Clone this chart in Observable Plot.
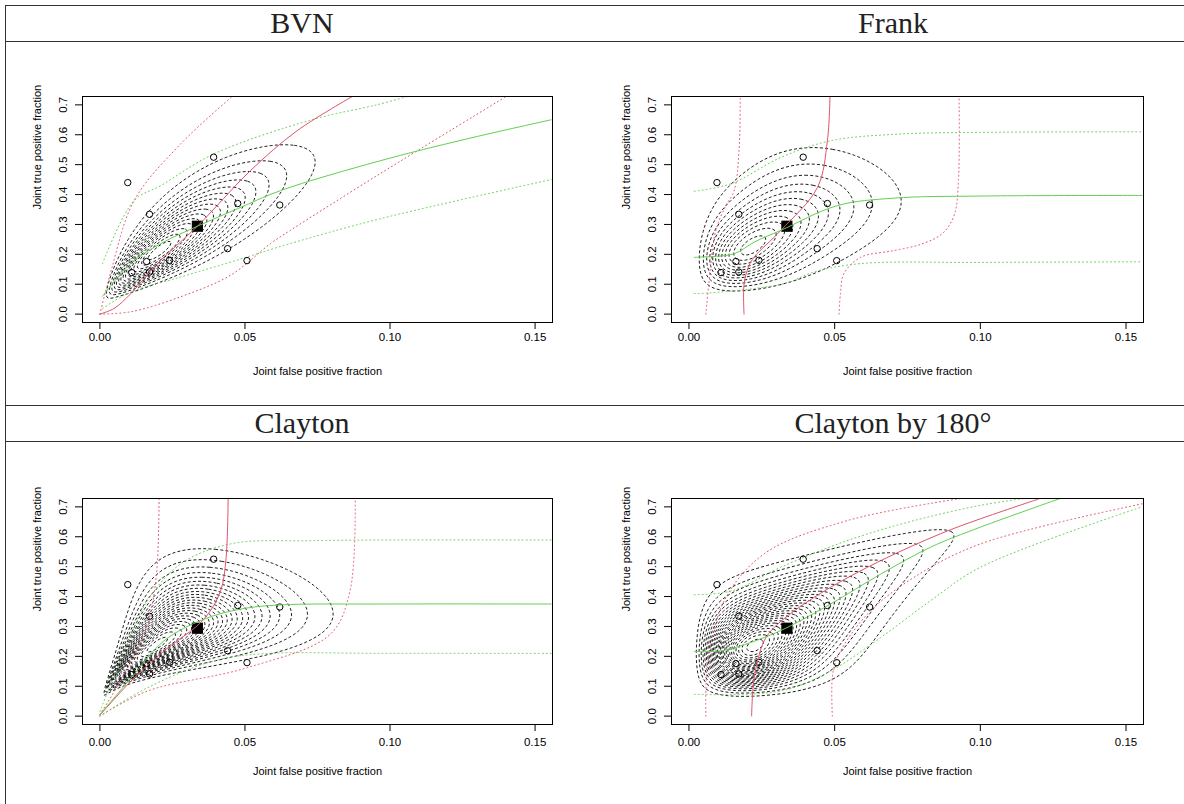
<!DOCTYPE html>
<html><head><meta charset="utf-8">
<script src="https://cdn.jsdelivr.net/npm/d3@7"></script>
<script src="https://cdn.jsdelivr.net/npm/@observablehq/plot@0.6"></script>
<style>
body{margin:0;background:#fff;width:1184px;height:804px;overflow:hidden;position:relative;font-family:"Liberation Sans",Arial,sans-serif}
.hl{position:absolute;left:6px;width:1200px;height:0;border-top:1.5px solid #333}
.vl{position:absolute;left:5px;top:5px;width:0;height:820px;border-left:1.5px solid #333}
.title{position:absolute;font-family:"Liberation Serif","DejaVu Serif",serif;font-size:30px;color:#222;text-align:center;width:592px;height:36px;line-height:36px}
.panel{position:absolute}
</style></head><body>
<div class="vl"></div>
<div class="hl" style="top:5px"></div>
<div class="hl" style="top:41px"></div>
<div class="hl" style="top:405px"></div>
<div class="hl" style="top:441px"></div>
<div id="t0" class="title" style="left:6px;top:5px"></div>
<div id="t1" class="title" style="left:597px;top:5px"></div>
<div id="t2" class="title" style="left:6px;top:405px"></div>
<div id="t3" class="title" style="left:597px;top:405px"></div>
<div id="p0" class="panel" style="left:10px;top:60px"></div>
<div id="p1" class="panel" style="left:599px;top:60px"></div>
<div id="p2" class="panel" style="left:10px;top:460px"></div>
<div id="p3" class="panel" style="left:599px;top:460px"></div>
<script>
// ---------- data ----------
const panelTitles = ["BVN", "Frank", "Clayton", "Clayton by 180°"];
const xTicks = [0, 0.05, 0.10, 0.15];
const yTicks = [0, 0.1, 0.2, 0.3, 0.4, 0.5, 0.6, 0.7];
const xTitle = "Joint false positive fraction";
const yTitle = "Joint true positive fraction";

// observed studies (joint FPF, joint TPF)
const studyFPF = [0.0096, 0.0392, 0.0171, 0.0475, 0.0620, 0.0440, 0.0507, 0.0161, 0.0240, 0.0110, 0.0171];
const studyTPF = [0.440, 0.525, 0.334, 0.370, 0.365, 0.219, 0.179, 0.176, 0.180, 0.139, 0.141];
// summary point
const summaryFPF = [0.0336];
const summaryTPF = [0.294];

// copula density model behind the contours (beta FPF margin, logit-normal TPF margin)
const copulaKind = ["bvn", "frank", "clayton", "clayton180"];
const copulaTheta = [0.82, 3.0, 1.0, 1.15];
const betaXa = [3.5, 3.5, 3.6, 3.5];
const betaXb = [100, 100, 105, 100];
const logitYmu = [-0.9, -0.9, -0.84, -0.9];
const logitYsd = [0.6, 0.57, 0.46, 0.57];
const contourCount = [15, 12, 24, 28];

// curves: red = median FPF given TPF (+ dotted bounds), green = median TPF given FPF (+ dotted bounds)
const bvnRed = [[0,0],[0.0049,0.019],[0.0107,0.069],[0.0198,0.169],[0.0336,0.294],[0.0519,0.48],[0.0679,0.613],[0.087,0.728]];
const bvnRedLo = [[0,0],[0.004,0.15],[0.0118,0.38],[0.0278,0.569],[0.0456,0.728]];
const bvnRedHi = [[0,0],[0.0107,0.008],[0.0278,0.058],[0.045,0.13],[0.0588,0.236],[0.0656,0.28],[0.0966,0.47],[0.14,0.728]];
const bvnGreen = [[0.0009,0.06],[0.0109,0.172],[0.021,0.236],[0.0336,0.294],[0.0473,0.352],[0.0622,0.413],[0.0966,0.513],[0.126,0.585],[0.1555,0.65]];
const bvnGreenHi = [[0.0009,0.169],[0.0118,0.38],[0.021,0.43],[0.0393,0.536],[0.0737,0.652],[0.0954,0.70],[0.106,0.728]];
const bvnGreenLo = [[0.0009,0.019],[0.0107,0.074],[0.0278,0.124],[0.045,0.174],[0.0656,0.236],[0.0966,0.319],[0.1555,0.45]];

const frankRed = [[0.0189,0],[0.0189,0.1],[0.0205,0.16],[0.0224,0.191],[0.0315,0.28],[0.0441,0.424],[0.0475,0.58],[0.0484,0.728]];
const frankRedLo = [[0.0058,0],[0.0068,0.1],[0.0092,0.28],[0.0125,0.36],[0.0155,0.413],[0.0172,0.55],[0.0176,0.728]];
const frankRedHi = [[0.0515,0],[0.052,0.07],[0.0532,0.136],[0.0589,0.19],[0.07,0.212],[0.08,0.235],[0.087,0.27],[0.091,0.33],[0.0925,0.45],[0.0927,0.728]];
const frankGreen = [[0.0018,0.19],[0.0041,0.191],[0.0155,0.202],[0.0224,0.241],[0.0315,0.28],[0.0509,0.363],[0.0703,0.388],[0.1,0.395],[0.1555,0.397]];
const frankGreenHi = [[0.0018,0.411],[0.0144,0.436],[0.0315,0.524],[0.0486,0.58],[0.0715,0.602],[0.1,0.608],[0.1555,0.61]];
const frankGreenLo = [[0.0018,0.069],[0.0041,0.069],[0.0326,0.102],[0.0429,0.141],[0.0589,0.169],[0.1,0.173],[0.1555,0.175]];

const clayRed = [[0,0.003],[0.0107,0.117],[0.0221,0.218],[0.0358,0.324],[0.0416,0.419],[0.0435,0.531],[0.0442,0.728]];
const clayRedLo = [[0,0.005],[0.0084,0.14],[0.0164,0.307],[0.0195,0.475],[0.0204,0.728]];
const clayRedHi = [[0,0],[0.0164,0.084],[0.0508,0.162],[0.0794,0.274],[0.0862,0.419],[0.088,0.728]];
const clayGreen = [[0,0.005],[0.0107,0.127],[0.0221,0.252],[0.0358,0.324],[0.0485,0.358],[0.0622,0.372],[0.0966,0.375],[0.1555,0.375]];
const clayGreenHi = [[0,0.016],[0.0084,0.218],[0.0164,0.386],[0.0278,0.509],[0.045,0.576],[0.0737,0.587],[0.1555,0.589]];
const clayGreenLo = [[0,0],[0.0164,0.095],[0.0393,0.185],[0.0565,0.209],[0.0966,0.21],[0.1555,0.21]];

const c180Red = [[0.0215,0],[0.0224,0.129],[0.0258,0.252],[0.0292,0.296],[0.0361,0.352],[0.0486,0.431],[0.0658,0.52],[0.0863,0.61],[0.1,0.66],[0.1205,0.728]];
const c180RedLo = [[0.0058,0],[0.0064,0.173],[0.0121,0.386],[0.0258,0.543],[0.0543,0.654],[0.0932,0.728]];
const c180RedHi = [[0.0492,0],[0.0492,0.129],[0.0509,0.196],[0.0612,0.341],[0.0772,0.464],[0.1,0.576],[0.1555,0.71]];
const c180Green = [[0.0018,0.216],[0.0119,0.22],[0.0258,0.263],[0.0336,0.296],[0.0486,0.375],[0.0658,0.475],[0.0829,0.565],[0.1,0.632],[0.1274,0.728]];
const c180GreenHi = [[0.0018,0.406],[0.0148,0.419],[0.0315,0.498],[0.0543,0.587],[0.0772,0.654],[0.1,0.705],[0.115,0.728]];
const c180GreenLo = [[0.0018,0.073],[0.0315,0.084],[0.0486,0.151],[0.0658,0.263],[0.0829,0.386],[0.1,0.498],[0.1555,0.7]];

const panelCurves = [
  [bvnRed, bvnRedLo, bvnRedHi, bvnGreen, bvnGreenHi, bvnGreenLo],
  [frankRed, frankRedLo, frankRedHi, frankGreen, frankGreenHi, frankGreenLo],
  [clayRed, clayRedLo, clayRedHi, clayGreen, clayGreenHi, clayGreenLo],
  [c180Red, c180RedLo, c180RedHi, c180Green, c180GreenHi, c180GreenLo]
];

// ---------- numerical helpers ----------
const RED = "#DF536B", GREEN = "#61D04F";
const studies = studyFPF.map((x, i) => ({x, y: studyTPF[i]}));
const summary = summaryFPF.map((x, i) => ({x, y: summaryTPF[i]}));

function lgamma(z) {
  const c = [0.99999999999980993, 676.5203681218851, -1259.1392167224028, 771.32342877765313, -176.61502916214059, 12.507343278686905, -0.13857109526572012, 9.9843695780195716e-6, 1.5056327351493116e-7];
  if (z < 0.5) return Math.log(Math.PI / Math.sin(Math.PI * z)) - lgamma(1 - z);
  z -= 1; let s = c[0];
  for (let i = 1; i < 9; i++) s += c[i] / (z + i);
  const t = z + 7.5;
  return 0.5 * Math.log(2 * Math.PI) + (z + 0.5) * Math.log(t) - t + Math.log(s);
}
function betacf(a, b, x) {
  const FPMIN = 1e-300; const qab = a + b, qap = a + 1, qam = a - 1;
  let c = 1, d = 1 - qab * x / qap; if (Math.abs(d) < FPMIN) d = FPMIN; d = 1 / d; let h = d;
  for (let m = 1; m <= 300; m++) {
    const m2 = 2 * m;
    let aa = m * (b - m) * x / ((qam + m2) * (a + m2));
    d = 1 + aa * d; if (Math.abs(d) < FPMIN) d = FPMIN; c = 1 + aa / c; if (Math.abs(c) < FPMIN) c = FPMIN; d = 1 / d; h *= d * c;
    aa = -(a + m) * (qab + m) * x / ((a + m2) * (qap + m2));
    d = 1 + aa * d; if (Math.abs(d) < FPMIN) d = FPMIN; c = 1 + aa / c; if (Math.abs(c) < FPMIN) c = FPMIN; d = 1 / d;
    const del = d * c; h *= del; if (Math.abs(del - 1) < 1e-13) break;
  }
  return h;
}
function Phi(z) {
  const t = 1 / (1 + 0.2316419 * Math.abs(z));
  const d = 0.3989422804 * Math.exp(-z * z / 2);
  const p = d * t * (0.3193815 + t * (-0.3565638 + t * (1.781478 + t * (-1.821256 + t * 1.330274))));
  return z > 0 ? 1 - p : p;
}
function betaMargin(a, b) {
  const lB = lgamma(a) + lgamma(b) - lgamma(a + b);
  return (x) => {
    const lbt = a * Math.log(x) + b * Math.log(1 - x) - lB;
    let F;
    if (x < (a + 1) / (a + b + 2)) F = Math.exp(lbt) * betacf(a, b, x) / a;
    else F = 1 - Math.exp(lbt) * betacf(b, a, 1 - x) / b;
    const logf = (a - 1) * Math.log(x) + (b - 1) * Math.log(1 - x) - lB;
    return [Math.min(Math.max(F, 1e-14), 1 - 1e-14), logf];
  };
}
function logitNormalMargin(mu, s) {
  return (y) => {
    const z = (Math.log(y / (1 - y)) - mu) / s;
    const F = Phi(z);
    const logf = -z * z / 2 - 0.5 * Math.log(2 * Math.PI) - Math.log(s * y * (1 - y));
    return [Math.min(Math.max(F, 1e-14), 1 - 1e-14), logf];
  };
}
function PhiInv(p) {
  const a = [-3.969683028665376e+01, 2.209460984245205e+02, -2.759285104469687e+02, 1.383577518672690e+02, -3.066479806614716e+01, 2.506628277459239e+00];
  const b = [-5.447609879822406e+01, 1.615858368580409e+02, -1.556989798598866e+02, 6.680131188771972e+01, -1.328068155288572e+01];
  const c = [-7.784894002430293e-03, -3.223964580411365e-01, -2.400758277161838e+00, -2.549732539343734e+00, 4.374664141464968e+00, 2.938163982698783e+00];
  const d = [7.784695709041462e-03, 3.224671290700398e-01, 2.445134137142996e+00, 3.754408661907416e+00];
  let q, r;
  if (p < 0.02425) { q = Math.sqrt(-2 * Math.log(p)); return (((((c[0]*q+c[1])*q+c[2])*q+c[3])*q+c[4])*q+c[5]) / ((((d[0]*q+d[1])*q+d[2])*q+d[3])*q+1); }
  if (p > 1 - 0.02425) { q = Math.sqrt(-2 * Math.log(1 - p)); return -(((((c[0]*q+c[1])*q+c[2])*q+c[3])*q+c[4])*q+c[5]) / ((((d[0]*q+d[1])*q+d[2])*q+d[3])*q+1); }
  q = p - 0.5; r = q * q;
  return (((((a[0]*r+a[1])*r+a[2])*r+a[3])*r+a[4])*r+a[5])*q / (((((b[0]*r+b[1])*r+b[2])*r+b[3])*r+b[4])*r+1);
}
function logCopula(kind, th, u, v) {
  if (kind === "bvn") {
    const zx = PhiInv(u), zy = PhiInv(v), r = th;
    return -Math.log(Math.sqrt(1 - r * r)) - (r * r * (zx * zx + zy * zy) - 2 * r * zx * zy) / (2 * (1 - r * r));
  }
  if (kind === "frank") {
    const a = -Math.expm1(-th);
    const den = a + Math.expm1(-th * u) * (-Math.expm1(-th * v));
    return Math.log(th * a) - th * (u + v) - 2 * Math.log(den);
  }
  if (kind === "clayton180") { u = 1 - u; v = 1 - v; }
  const lu = Math.log(u), lv = Math.log(v);
  return Math.log(1 + th) - (th + 1) * (lu + lv) - (2 + 1 / th) * Math.log(Math.exp(-th * lu) + Math.exp(-th * lv) - 1);
}
function cached(fn) {
  const m = new Map();
  return (x) => { let r = m.get(x); if (!r) { r = fn(x); m.set(x, r); } return r; };
}
function densityFor(k) {
  const kind = copulaKind[k], th = copulaTheta[k];
  const mX = cached(betaMargin(betaXa[k], betaXb[k]));
  const mY = cached(logitNormalMargin(logitYmu[k], logitYsd[k]));
  return (x, y) => {
    if (!(x > 0 && x < 1 && y > 0 && y < 1)) return 0;
    const [u, lfx] = mX(x), [v, lfy] = mY(y);
    const val = Math.exp(logCopula(kind, th, u, v) + lfx + lfy);
    return isFinite(val) ? val : 0;
  };
}

// ---------- rendering ----------
const X1 = 0.0004, X2 = 0.156, Y1 = 0.001, Y2 = 0.728;

function panel(k, el) {
  const f = densityFor(k);
  let mx = 0;
  for (let i = 0; i <= 300; i++) for (let j = 0; j <= 240; j++) {
    const v = f(X1 + (X2 - X1) * i / 300, Y1 + (Y2 - Y1) * j / 240);
    if (v > mx) mx = v;
  }
  const n = contourCount[k];
  const step = mx / (n + 0.6);
  const thresholds = d3.range(1, n + 1).map(i => i * step);
  const [red, redLo, redHi, green, greenHi, greenLo] = panelCurves[k];
  const top = k < 2;
  const line = (data, stroke, dash) => Plot.line(data, {x: d => d[0], y: d => d[1], stroke, strokeWidth: 1, strokeDasharray: dash, curve: "catmull-rom", clip: true});
  const chart = Plot.plot({
    width: 570, height: 330,
    marginLeft: 72, marginRight: k % 2 ? 26 : 28,
    marginTop: top ? 36 : 38, marginBottom: top ? 68 : 66,
    x: {domain: [-0.006, 0.156]},
    y: {domain: [-0.028, 0.728]},
    style: {fontFamily: "'Liberation Sans', Arial, sans-serif", fontSize: "11.5px", background: "white", overflow: "visible"},
    marks: [
      Plot.contour({value: f, x1: X1, x2: X2, y1: Y1, y2: Y2, thresholds, fill: "none", stroke: "black", strokeWidth: 0.9, strokeDasharray: "3,2.2", clip: true}),
      line(redLo, RED, "1,3"), line(redHi, RED, "1,3"),
      line(greenHi, GREEN, "1,3"), line(greenLo, GREEN, "1,3"),
      Plot.dot(studies, {x: "x", y: "y", r: 3.2, stroke: "black", strokeWidth: 1, fill: "none"}),
      Plot.dot(summary, {x: "x", y: "y", symbol: "square", r: 6.3, fill: "black", stroke: "none"}),
      line(red, RED, null), line(green, GREEN, null),
      Plot.frame({stroke: "black", strokeWidth: 1}),
      Plot.axisX(xTicks, {tickSize: 7, tickPadding: top ? 3 : 6, tickFormat: d => d.toFixed(2), label: null, fontSize: 11.5}),
      Plot.axisY(yTicks, {tickSize: 7, tickFormat: () => "", label: null}),
      Plot.text(yTicks, {y: d => d, text: d => d.toFixed(1), frameAnchor: "left", dx: -19, rotate: -90, textAnchor: "middle", fontSize: 11.5}),
      Plot.text([xTitle], {text: d => d, frameAnchor: "bottom", dy: top ? 52 : 50, fontSize: 11}),
      Plot.text([yTitle], {text: d => d, frameAnchor: "left", dx: -45, rotate: -90, fontSize: 11})
    ]
  });
  el.appendChild(chart);
}

panelTitles.forEach((t, k) => {
  document.getElementById("t" + k).textContent = t;
  panel(k, document.getElementById("p" + k));
});
</script>
</body></html>
